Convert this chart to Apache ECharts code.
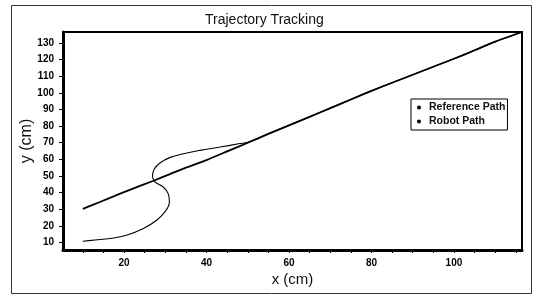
<!DOCTYPE html>
<html>
<head>
<meta charset="utf-8">
<script src="https://cdn.jsdelivr.net/npm/echarts@6/dist/echarts.min.js"></script>
<style>
  html, body { margin: 0; padding: 0; background: #fff; }
  #chart { width: 536px; height: 295px; }
</style>
</head>
<body>
<div id="chart"></div>
<script>
// Dane
const refX = [10, 14, 18, 22, 27, 31, 35, 40, 45, 50, 55, 60, 65, 70, 75, 80, 85, 90, 95, 100, 105, 110, 116.5];
const refY = [30.2, 34.2, 38.3, 42.3, 47, 51, 55, 59.6, 64.8, 70, 75.3, 80.4, 85.6, 90.8, 96, 101.2, 106.1, 110.9, 115.7, 120.5, 125.6, 130.8, 136.6];

const robotX = [10, 13, 16.6, 20.6, 24.7, 27.9, 29.9, 31, 30.7, 29.5, 27.5, 26.9, 27.3, 28.7, 31.2, 34.4, 38.4, 43.3, 48.1, 50, 55, 60, 65, 70, 75, 80, 85, 90, 95, 100, 105, 110, 116.5];
const robotY = [10.8, 11.5, 12.4, 14.4, 18.4, 23.4, 28.4, 34.4, 39.4, 43.4, 46.4, 50, 54, 57.8, 61.2, 63.4, 65.4, 67.4, 69.5, 70.3, 75.4, 80.5, 85.6, 90.8, 96, 101.2, 106.1, 110.9, 115.7, 120.5, 125.6, 130.8, 136.6];

const xLabels = [20, 40, 60, 80, 100];
const xTicks = [10, 15, 20, 25, 30, 35, 40, 45, 50, 55, 60, 65, 70, 75, 80, 85, 90, 95, 100, 105, 110, 115];
const yLabels = [10, 20, 30, 40, 50, 60, 70, 80, 90, 100, 110, 120, 130];

const seriesNames = ["Reference Path", "Robot Path"];

const chart = echarts.init(document.getElementById("chart"));

const font = "Liberation Sans, Arial, sans-serif";

const option = {
    backgroundColor: "#fff",
    animation: false,
    title: {
        text: "Trajectory Tracking",
        left: 200,
        top: 8,
        textStyle: { fontFamily: font, fontSize: 14, fontWeight: "normal", color: "#111" }
    },
    graphic: [{
        type: "rect",
        shape: { x: 11.5, y: 5.5, width: 520, height: 288 },
        style: { fill: "none", stroke: "#333", lineWidth: 1 },
        silent: true
    }],
    legend: {
        orient: "vertical",
        left: 411,
        top: 99,
        data: seriesNames,
        icon: "circle",
        itemWidth: 4,
        itemHeight: 4,
        itemGap: 3,
        padding: [3, 2, 3, 6],
        borderColor: "#000",
        borderWidth: 1,
        textStyle: { fontFamily: font, fontSize: 10.5, fontWeight: "bold", color: "#111", padding: [0, 0, 0, 3] }
    },
    grid: {
        left: 63,
        right: 14,
        top: 32,
        bottom: 45,
        show: true,
        borderColor: "#000",
        borderWidth: 2
    },
    xAxis: {
        type: "value",
        min: 5.2,
        max: 116.5,
        name: "x (cm)",
        nameLocation: "middle",
        nameGap: 22,
        nameMoveOverlap: false,
        nameTextStyle: { fontFamily: font, fontSize: 15, color: "#111" },
        axisLine: { show: true, onZero: false, lineStyle: { color: "#000", width: 3 } },
        axisTick: { show: true, customValues: xTicks, length: 3, lineStyle: { color: "#000" } },
        axisLabel: { customValues: xLabels, margin: 8, fontFamily: font, fontSize: 10, fontWeight: "bold", color: "#000" },
        splitLine: { show: false }
    },
    yAxis: {
        type: "value",
        min: 5.5,
        max: 136.6,
        name: "y (cm)",
        nameLocation: "middle",
        nameGap: 28,
        nameMoveOverlap: false,
        nameTextStyle: { fontFamily: font, fontSize: 16, color: "#111" },
        axisLine: { show: true, onZero: false, lineStyle: { color: "#000", width: 3 } },
        axisTick: { show: true, customValues: yLabels, length: 4, lineStyle: { color: "#000" } },
        axisLabel: { customValues: yLabels, margin: 9, fontFamily: font, fontSize: 10, fontWeight: "bold", color: "#000" },
        splitLine: { show: false }
    },
    series: [
        {
            name: seriesNames[0],
            type: "line",
            data: refX.map((x, i) => [x, refY[i]]),
            showSymbol: false,
            smooth: 0.2,
            lineStyle: { color: "#000", width: 1.8 },
            itemStyle: { color: "#000" }
        },
        {
            name: seriesNames[1],
            type: "line",
            data: robotX.map((x, i) => [x, robotY[i]]),
            showSymbol: false,
            smooth: 0.4,
            lineStyle: { color: "#000", width: 1.1 },
            itemStyle: { color: "#000" }
        }
    ]
};

chart.setOption(option);
</script>
</body>
</html>
